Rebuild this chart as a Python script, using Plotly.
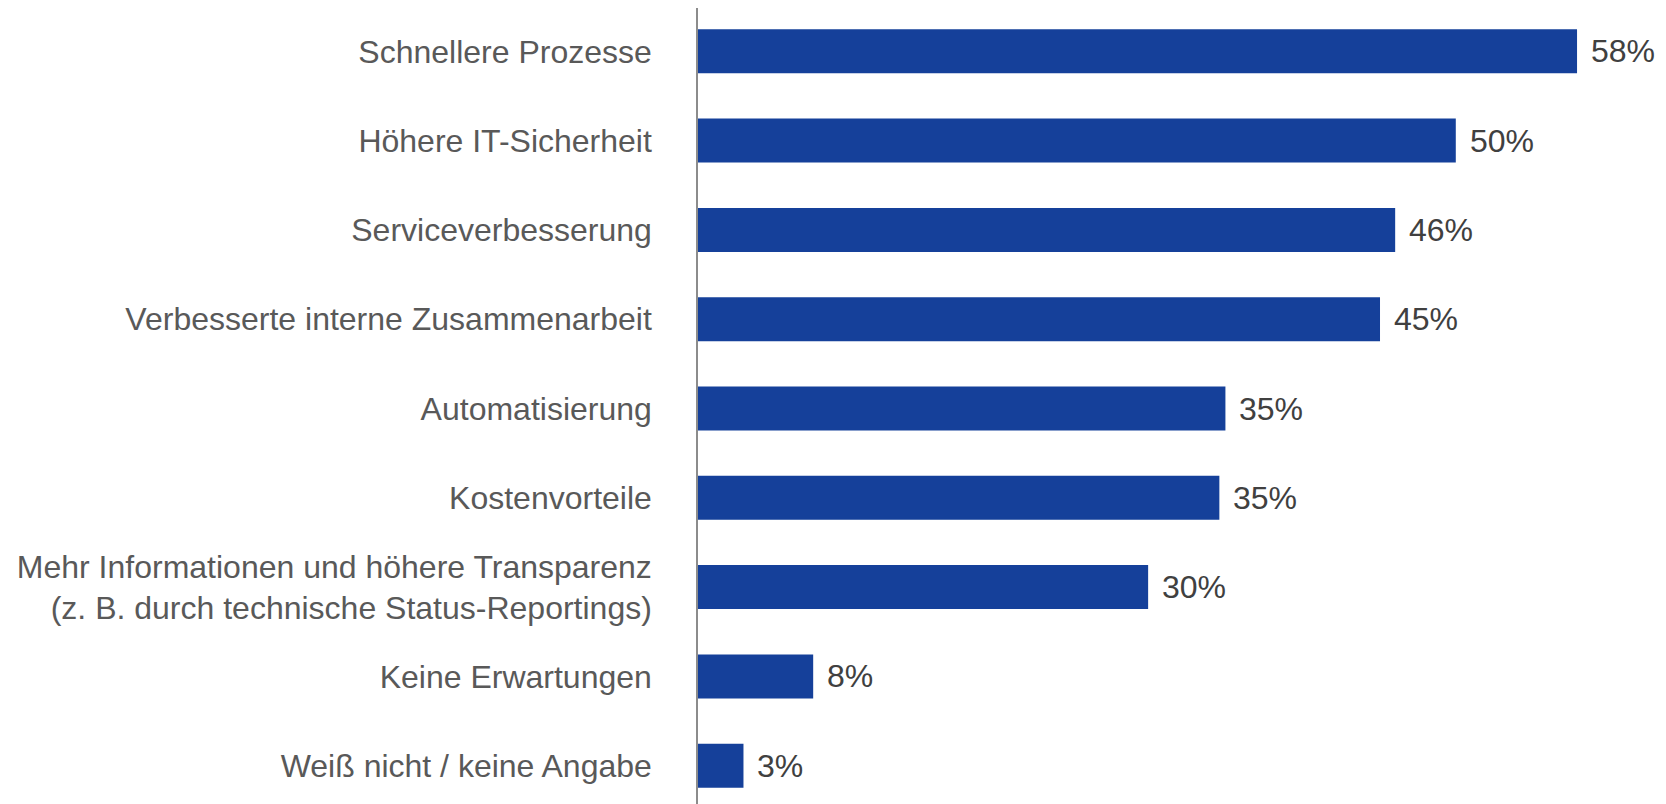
import plotly.graph_objects as go

categories = [
    "Schnellere Prozesse",
    "Höhere IT-Sicherheit",
    "Serviceverbesserung",
    "Verbesserte interne Zusammenarbeit",
    "Automatisierung",
    "Kostenvorteile",
    "Mehr Informationen und höhere Transparenz<br>(z. B. durch technische Status-Reportings)",
    "Keine Erwartungen",
    "Weiß nicht / keine Angabe",
]
values = [58, 50, 46, 45, 34.8, 34.4, 29.7, 7.6, 3.0]
value_labels = ["58%", "50%", "46%", "45%", "35%", "35%", "30%", "8%", "3%"]

BAR_COLOR = "#15409A"
FONT = "Liberation Sans, Arial, sans-serif"

fig = go.Figure(
    go.Bar(
        x=values,
        y=categories,
        orientation="h",
        marker=dict(color=BAR_COLOR, line=dict(width=0)),
        hoverinfo="skip",
    )
)

for cat, val, lab in zip(categories, values, value_labels):
    fig.add_annotation(
        x=val, y=cat, text=lab, showarrow=False,
        xanchor="left", yanchor="middle", xshift=12,
        font=dict(family=FONT, size=32, color="#404040"),
    )

fig.update_layout(
    width=1658, height=796,
    margin=dict(l=690, r=0, t=0, b=0),
    paper_bgcolor="white", plot_bgcolor="white",
    bargap=0.507,
    showlegend=False,
    font=dict(family=FONT, size=32, color="#595959"),
    xaxis=dict(range=[0, 63.87], visible=False, showgrid=False, zeroline=False),
    yaxis=dict(
        categoryorder="array",
        categoryarray=list(reversed(categories)),
        range=[-0.429, 8.485],
        showline=True, linecolor="#8c8c8c", linewidth=1.5,
        showgrid=False, zeroline=False, ticks="",
        ticklabelstandoff=38,
        tickfont=dict(family=FONT, size=32, color="#595959"),
    ),
)

fig.write_html("out.html")
